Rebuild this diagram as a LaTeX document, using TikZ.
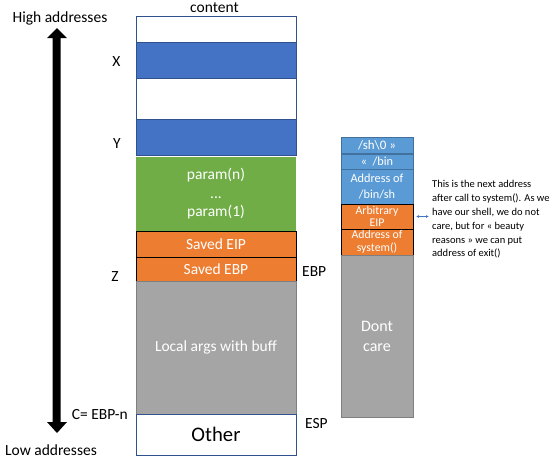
\documentclass[tikz,border=0pt]{standalone}
\usepackage{fontspec}
\setmainfont{Carlito}
\usetikzlibrary{positioning,calc,arrows.meta}

\definecolor{stackblue}{HTML}{4472C4}
\definecolor{stacklightblue}{HTML}{5B9BD5}
\definecolor{stackgreen}{HTML}{70AD47}
\definecolor{stackorange}{HTML}{ED7D31}
\definecolor{stackgray}{HTML}{A5A5A5}
\definecolor{edgeblue}{HTML}{2F528F}
\definecolor{edgelightblue}{HTML}{41719C}
\definecolor{edgegray}{HTML}{7F7F7F}

\tikzset{
	cell/.style = {draw=edgeblue, line width=0.8pt, minimum width=160pt, inner sep=0pt, outer sep=0pt, text=white, align=center, font=\fontsize{15.5}{18.5}\selectfont},
	smallcell/.style = {cell, minimum width=72pt, font=\fontsize{12.3}{14}\selectfont},
	tightcell/.style = {smallcell, font=\fontsize{11.8}{12.6}\selectfont},
	side/.style = {inner sep=0pt, font=\fontsize{15.5}{18.5}\selectfont},
	note arrow/.style = {draw=stackblue, line width=0.6pt, {Latex[length=3pt,width=3pt]}-{Latex[length=3pt,width=3pt]}},
}

\begin{document}
\begin{tikzpicture}[x=1pt, y=-1pt]
	\useasboundingbox (0,0) rectangle (555,461);

	% main stack
	\node[cell, fill=white, minimum height=26pt]                (top)   at (216,29)    {};
	\node[cell, fill=stackblue, minimum height=36pt]            (x)     at (216,60)    {};
	\node[cell, fill=white, minimum height=41pt]                (mid)   at (216,98.5)  {};
	\node[cell, fill=stackblue, minimum height=36pt]            (y)     at (216,137)   {};
	\node[cell, draw=none, fill=stackgreen, minimum height=74pt] (param) at (216,194)   {param(n)\\...\\param(1)};
	\node[cell, draw=black, fill=stackorange, minimum height=26pt] (eip) at (216,244)   {Saved EIP};
	\node[cell, draw=black, fill=stackorange, minimum height=24pt] (ebp) at (216,269)   {Saved EBP};
	\node[cell, draw=edgegray, fill=stackgray, minimum height=133pt] (buff) at (216,347.5) {Local args with buff};
	\node[cell, fill=white, text=black, minimum height=41pt, font=\fontsize{20.7}{24}\selectfont] (other) at (216,434.5) {\raisebox{-2pt}{Other}};

	% exploit stack
	\node[smallcell, draw=edgelightblue, fill=stacklightblue, minimum height=16pt, font=\fontsize{13}{14}\selectfont] (sh) at (377,145) {/sh\textbackslash0 »};
	\node[smallcell, draw=edgelightblue, fill=stacklightblue, minimum height=15pt] (bin)   at (377,161.5) {«\ \ /bin};
	\node[smallcell, draw=edgelightblue, fill=stacklightblue, minimum height=35pt, font=\fontsize{12.3}{16}\selectfont] (addrsh) at (377,186.5) {Address of\\/bin/sh};
	\node[tightcell, draw=black, fill=stackorange, minimum height=25pt]            (arb)   at (377,216.5) {Arbitrary\\EIP};
	\node[tightcell, draw=black, fill=stackorange, minimum height=26pt]            (sys)   at (377,242)   {Address of\\system()};
	\node[smallcell, draw=edgegray, fill=stackgray, minimum height=162pt, font=\fontsize{16}{20}\selectfont] (dont) at (377,336) {Dont\\care};

	% labels
	\node[side] (content) at (214.5,8) {content};
	\node[side] (high)    at (60,18)   {High addresses};
	\node[side] (low)     at (51,450)  {Low addresses};
	\node[side] (lx)      at (116.5,62) {X};
	\node[side] (ly)      at (117,144) {Y};
	\node[side] (lz)      at (115,277) {Z};
	\node[side, anchor=east] (lc) at (128,415) {C= EBP-n};
	\node[side, anchor=west] (lebp) at (302,272) {EBP};
	\node[side, anchor=west] (lesp) at (305,424) {ESP};

	% direction arrow
	\fill (52.5,38) -- (47,38) -- (57,28) -- (67,38) -- (60.5,38) -- (60.5,422)
		-- (67,422) -- (57,433) -- (47,422) -- (52.5,422) -- cycle;

	% note
	\node[anchor=west, inner sep=0pt, align=left, font=\fontsize{10.5}{13.8}\selectfont] (note) at (432,219.5)
		{This is the next address\\after call to system(). As we\\have our shell, we do not\\care, but for « beauty\\reasons » we can put\\address of exit()};
	\draw[note arrow, shorten <=3pt, shorten >=3pt] (arb.east) -- (arb.east -| note.west);
\end{tikzpicture}
\end{document}
